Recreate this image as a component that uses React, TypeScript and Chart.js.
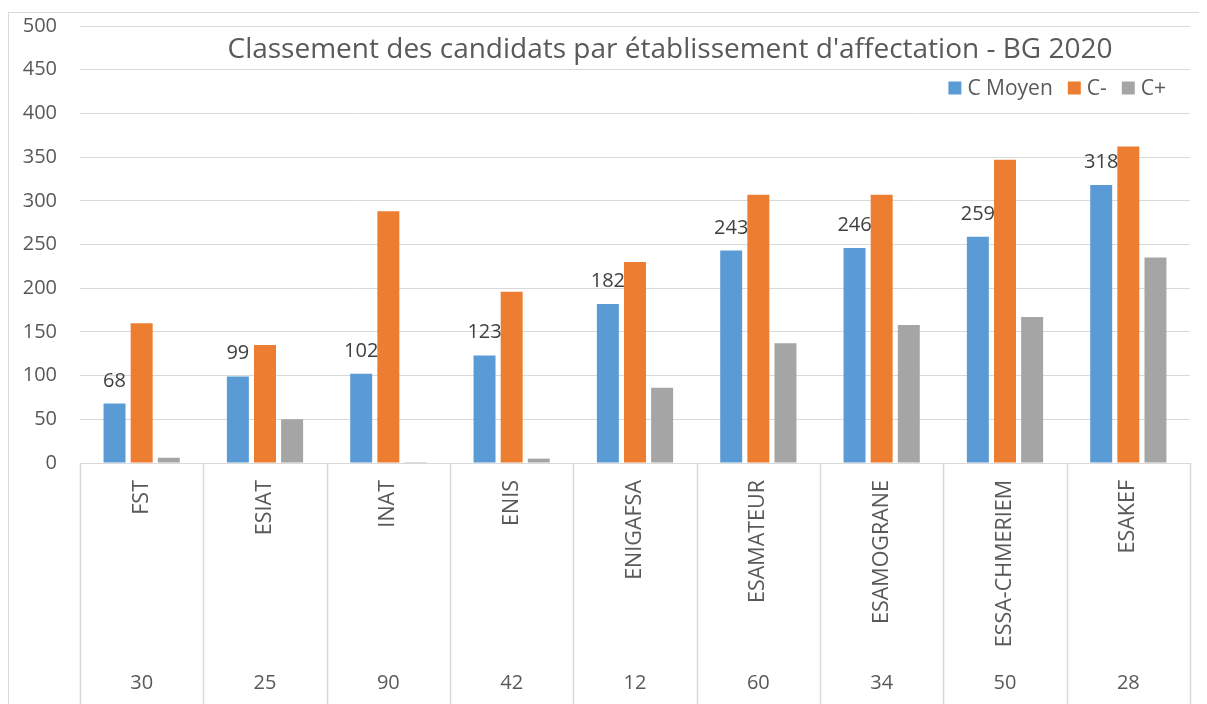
import React, { useEffect, useRef } from "react";
import { Chart, registerables } from "chart.js";

Chart.register(...registerables);

const categories = ["FST", "ESIAT", "INAT", "ENIS", "ENIGAFSA", "ESAMATEUR", "ESAMOGRANE", "ESSA-CHMERIEM", "ESAKEF"];
const counts = ["30", "25", "90", "42", "12", "60", "34", "50", "28"];
const seriesNames = ["C Moyen", "C-", "C+"];
const cMoyen = [68, 99, 102, 123, 182, 243, 246, 259, 318];
const cMinus = [160, 135, 288, 196, 230, 307, 307, 347, 362];
const cPlus = [6, 50, 1, 5, 86, 137, 158, 167, 235];
const titleText = "Classement des candidats par établissement d'affectation - BG 2020";

const colors = ["#5B9BD5", "#ED7D31", "#A5A5A5"];
const textColor = "#595959";
const gridColor = "#D9D9D9";
const FONT = "'Open Sans', sans-serif";

const overlay = {
  id: "overlay",
  afterDatasetsDraw(chart: any) {
    const { ctx, chartArea } = chart;
    const xs = chart.scales.x;
    ctx.save();
    // data labels for first series
    const meta = chart.getDatasetMeta(0);
    ctx.fillStyle = "#404040";
    ctx.font = `20px ${FONT}`;
    ctx.textAlign = "center";
    ctx.textBaseline = "alphabetic";
    meta.data.forEach((bar: any, i: number) => {
      ctx.fillText(String(chart.data.datasets[0].data[i]), bar.x, bar.y - 17);
    });
    // title
    ctx.fillStyle = textColor;
    ctx.font = `28px ${FONT}`;
    ctx.textAlign = "center";
    ctx.fillText(titleText, (chartArea.left + chartArea.right) / 2 + 35, 45);
    // legend (right aligned)
    ctx.font = `21px ${FONT}`;
    ctx.textBaseline = "middle";
    const box = 13, gapBT = 6, gapItem = 15;
    const items = chart.data.datasets.map((d: any) => ({ label: d.label, color: d.backgroundColor }));
    let total = 0;
    items.forEach((it: any, k: number) => {
      total += box + gapBT + ctx.measureText(it.label).width + (k < items.length - 1 ? gapItem : 0);
    });
    let lx = chartArea.right - 24 - total;
    const ly = 75;
    items.forEach((it: any) => {
      ctx.fillStyle = it.color;
      ctx.fillRect(lx, ly - box / 2, box, box);
      lx += box + gapBT;
      ctx.fillStyle = textColor;
      ctx.textAlign = "left";
      ctx.fillText(it.label, lx, ly + 1);
      lx += ctx.measureText(it.label).width + gapItem;
    });
    // x separators
    const n = categories.length;
    const cw = (chartArea.right - chartArea.left) / n;
    ctx.strokeStyle = gridColor;
    ctx.lineWidth = 1.5;
    for (let i = 0; i <= n; i++) {
      const px = Math.round(xs.getPixelForValue(Math.min(i, n - 1)) + (i === n ? cw / 2 : -cw / 2)) + 0.5;
      ctx.beginPath();
      ctx.moveTo(px, chartArea.bottom);
      ctx.lineTo(px, chart.height);
      ctx.stroke();
    }
    // x labels
    ctx.fillStyle = textColor;
    for (let i = 0; i < n; i++) {
      const cx = xs.getPixelForValue(i);
      ctx.save();
      ctx.translate(cx, chartArea.bottom + 17);
      ctx.rotate(-Math.PI / 2);
      ctx.font = `21.5px ${FONT}`;
      ctx.textAlign = "right";
      ctx.textBaseline = "middle";
      ctx.fillText(categories[i], 0, 0);
      ctx.restore();
      ctx.font = `20px ${FONT}`;
      ctx.textAlign = "center";
      ctx.textBaseline = "middle";
      ctx.fillText(counts[i], cx, 670);
    }
    ctx.restore();
  },
};

export default function App() {
  const ref = useRef<HTMLCanvasElement>(null);
  useEffect(() => {
    if (!ref.current) return;
    const chart = new Chart(ref.current, {
      type: "bar",
      data: {
        labels: categories,
        datasets: [
          { label: seriesNames[0], data: cMoyen, backgroundColor: colors[0] },
          { label: seriesNames[1], data: cMinus, backgroundColor: colors[1] },
          { label: seriesNames[2], data: cPlus, backgroundColor: colors[2] },
        ],
      },
      options: {
        animation: false,
        responsive: true,
        maintainAspectRatio: false,
        layout: { padding: { left: 0, right: 17, top: 13, bottom: 0 } },
        datasets: { bar: { categoryPercentage: 0.66, barPercentage: 0.81 } },
        plugins: { legend: { display: false }, title: { display: false }, tooltip: { enabled: false } },
        scales: {
          x: {
            ticks: { display: false },
            grid: { display: false },
            border: { display: false },
            afterFit: (s: any) => { s.height = 241; },
          },
          y: {
            min: 0,
            max: 500,
            ticks: { stepSize: 50, padding: 0, color: textColor, font: { family: FONT, size: 20 } },
            grid: { color: gridColor, drawTicks: true, tickLength: 23, tickColor: "rgba(0,0,0,0)", lineWidth: 1 },
            border: { display: false },
            afterFit: (s: any) => { s.width = 71; },
          },
        },
      },
      plugins: [overlay],
    });
    return () => chart.destroy();
  }, []);
  return (
    <div style={{ paddingTop: 4 }}>
      <div
        style={{
          position: "relative",
          width: 1199,
          height: 692,
          borderTop: `1px solid ${gridColor}`,
          borderLeft: `1px solid ${gridColor}`,
          boxSizing: "border-box",
          background: "#fff",
        }}
      >
        <canvas ref={ref} />
      </div>
    </div>
  );
}
